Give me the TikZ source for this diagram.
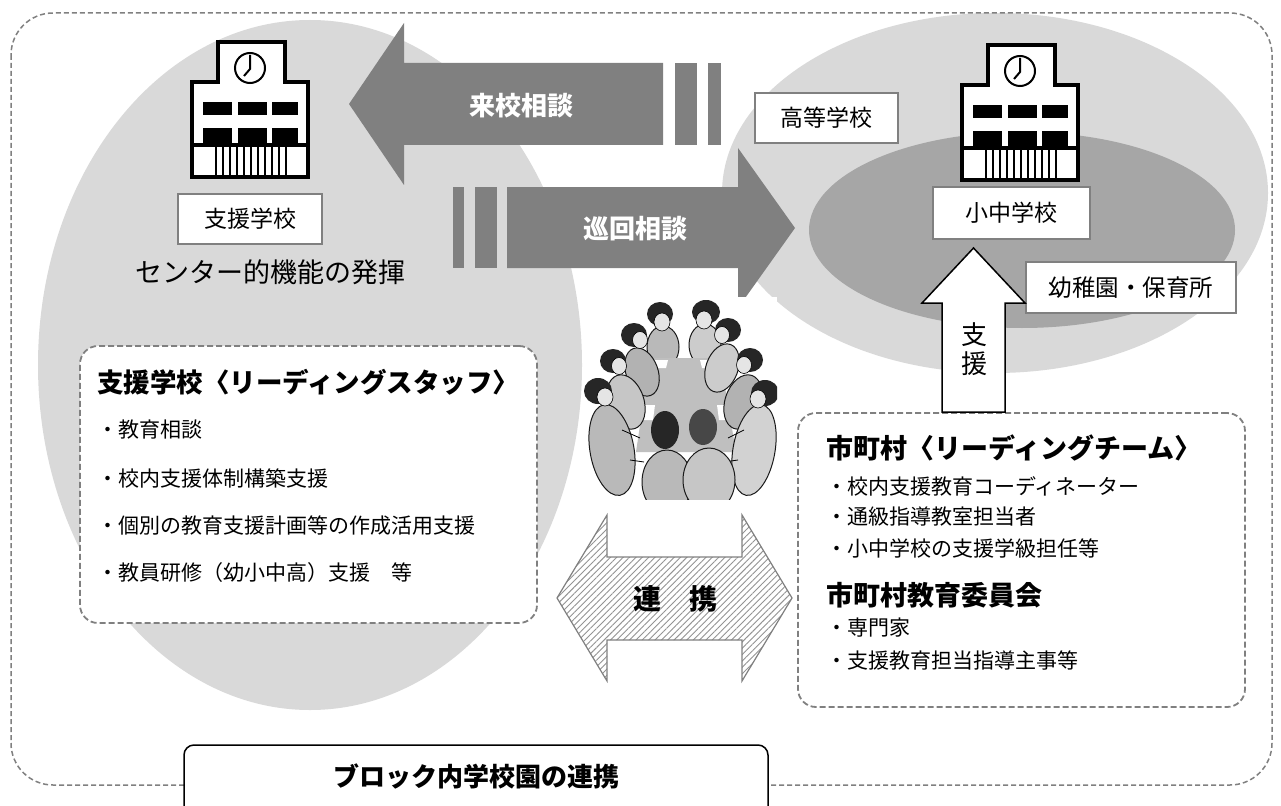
\documentclass[tikz,border=0pt]{standalone}
\usepackage{fontspec}
\newfontfamily\jp{Noto Sans CJK JP}
\usetikzlibrary{patterns.meta}
\newcommand\setfs[1]{\fontsize{#1}{#1}\selectfont}
\definecolor{paleg}{HTML}{D9D9D9}
\definecolor{midg}{HTML}{A6A6A6}
\definecolor{arrowg}{HTML}{808080}
\definecolor{lineg}{HTML}{808080}
\definecolor{hairc}{HTML}{262626}
\tikzset{
  lbl/.style={font={\jp\setfs{#1}}, inner sep=0pt},
  blbl/.style={font={\jp\bfseries\setfs{#1}}, inner sep=0pt},
  namebox/.style={draw=lineg, line width=1.5pt, fill=white, inner sep=0pt, font={\jp\setfs{23}}},
  groupbox/.style={draw=lineg, line width=1.8pt, dash pattern=on 6pt off 3pt, fill=white,
    rounded corners=18pt, inner sep=0pt},
  bigarrow/.style={fill=arrowg},
  body/.style={draw=black!90, line width=1pt},
  face/.style={fill=gray!20, draw=black, line width=0.6pt},
  school/.pic={
    \draw[line width=3.5pt, fill=white, line join=miter]
      (0,135) -- (0,40) -- (26,40) -- (26,0) -- (93,0) -- (93,40) -- (116,40) -- (116,135) -- cycle;
    \draw[line width=2pt] (58,26) circle (15pt);
    \draw[line width=2pt] (58,13) -- (58,27) -- (52,34);
    \foreach \wx/\ww in {11/29,46/29,80/26}{
      \fill (\wx,60) rectangle ++(\ww,13);
      \fill (\wx,86) rectangle ++(\ww,17);
    }
    \draw[line width=3.5pt] (0,103) -- (116,103);
    \foreach \i in {0,...,10}{\draw[line width=2pt] (24+7*\i,103) -- (24+7*\i,135);}
  }
}
\begin{document}
\begin{tikzpicture}[x=1pt,y=-1pt]
\useasboundingbox (0,0) rectangle (1281,805);
\fill[white] (0,0) rectangle (1281,805);

% background areas
\fill[paleg] (310,365) ellipse [x radius=272pt, y radius=345pt];
\fill[paleg] (995,193) ellipse [x radius=273pt, y radius=180pt];
\fill[midg] (1022,230) ellipse [x radius=213pt, y radius=98pt];

% outer frame
\draw[lineg, line width=1.5pt, dash pattern=on 5pt off 3pt, rounded corners=42pt]
  (11,13) rectangle (1272,785);

% visiting consultation (to the left)
\fill[bigarrow] (663,63) -- (404,63) -- (404,23) -- (349,104) -- (404,185) -- (404,145) -- (663,145) -- cycle;
\fill[bigarrow] (675,63) rectangle (697,145);
\fill[bigarrow] (708,63) rectangle (721,145);
\node[blbl=26, text=white] (raiko) at (521,106) {来校相談};

% itinerant consultation (to the right)
\fill[bigarrow] (453,187) rectangle (464,268);
\fill[bigarrow] (475,187) rectangle (497,268);
\fill[bigarrow] (507,187) -- (738,187) -- (738,148) -- (795,228) -- (738,308) -- (738,268) -- (507,268) -- cycle;
\node[blbl=26, text=white] (junkai) at (635,229) {巡回相談};

% school buildings
\pic at (192,42) {school};
\pic at (962,45) {school};

% name boxes
\node[namebox, minimum width=144pt, minimum height=50pt] (shien) at (250,219) {支援学校};
\node[lbl=27] (center) at (270,272) {センター的機能の発揮};
\node[namebox, minimum width=143pt, minimum height=50pt] (koto) at (826.5,118) {高等学校};
\node[namebox, minimum width=157pt, minimum height=52pt] (shochu) at (1011.5,213) {小中学校};
\node[namebox, minimum width=210pt, minimum height=51pt, font={\jp\setfs{23.5}}] (yochi) at (1131,287.5) {幼稚園・保育所};

% meeting illustration
\begin{scope}
  \fill[white] (583,297) rectangle (777,500);
  \clip (583,297) rectangle (777,499);
  % far side
  \draw[body, fill=gray!55] (663,347) ellipse [x radius=16pt, y radius=21pt];
  \draw[body, fill=gray!40] (705,345) ellipse [x radius=16pt, y radius=21pt];
  \fill[hairc] (660,314) ellipse [x radius=13pt, y radius=12pt];
  \filldraw[face] (662,322) ellipse [x radius=8pt, y radius=9pt];
  \fill[hairc] (706,312) ellipse [x radius=14pt, y radius=12pt];
  \filldraw[face] (704,320) ellipse [x radius=8pt, y radius=9pt];
  % table
  \fill[gray!50] (650,358) -- (720,358) -- (736,452) -- (636,452) -- cycle;
  \fill[white] (654,360) -- (668,360) -- (666,368) -- (652,368) -- cycle;
  \fill[white] (700,360) -- (716,360) -- (718,368) -- (702,368) -- cycle;
  \fill[white] (643,405) -- (655,405) -- (653,420) -- (641,420) -- cycle;
  \fill[white] (717,405) -- (729,405) -- (731,420) -- (719,420) -- cycle;
  % left side
  \draw[body, fill=gray!60, rotate around={20:(642,372)}] (642,372) ellipse [x radius=16pt, y radius=25pt];
  \draw[body, fill=gray!45, rotate around={18:(626,402)}] (626,402) ellipse [x radius=18pt, y radius=28pt];
  \draw[body, fill=gray!55, rotate around={10:(612,450)}] (612,450) ellipse [x radius=22pt, y radius=46pt];
  \draw[black, line width=0.8pt] (622,430) -- (640,438) (630,460) -- (644,462);
  \fill[hairc] (634,335) ellipse [x radius=13pt, y radius=12pt];
  \filldraw[face] (640,340) ellipse [x radius=7.5pt, y radius=8.5pt];
  \fill[hairc] (613,361) ellipse [x radius=13pt, y radius=12pt];
  \filldraw[face] (619,366) ellipse [x radius=7.5pt, y radius=8.5pt];
  \fill[hairc] (598,391) ellipse [x radius=14pt, y radius=13pt];
  \filldraw[face] (605,397) ellipse [x radius=8pt, y radius=9pt];
  % right side
  \draw[body, fill=gray!40, rotate around={-20:(722,368)}] (722,368) ellipse [x radius=16pt, y radius=25pt];
  \draw[body, fill=gray!60, rotate around={-18:(743,402)}] (743,402) ellipse [x radius=18pt, y radius=28pt];
  \draw[body, fill=gray!35, rotate around={-10:(754,450)}] (754,450) ellipse [x radius=21pt, y radius=46pt];
  \draw[black, line width=0.8pt] (744,430) -- (728,438) (738,460) -- (724,462);
  \fill[hairc] (728,330) ellipse [x radius=13pt, y radius=12pt];
  \filldraw[face] (722,335) ellipse [x radius=7.5pt, y radius=8.5pt];
  \fill[hairc] (750,360) ellipse [x radius=13pt, y radius=12pt];
  \filldraw[face] (744,365) ellipse [x radius=7.5pt, y radius=8.5pt];
  \fill[hairc] (765,393) ellipse [x radius=14pt, y radius=13pt];
  \filldraw[face] (758,399) ellipse [x radius=8pt, y radius=9pt];
  % near side, seen from behind
  \draw[body, fill=gray!55] (667,482) ellipse [x radius=25pt, y radius=32pt];
  \draw[body, fill=gray!45] (709,480) ellipse [x radius=26pt, y radius=32pt];
  \fill[hairc] (665,430) ellipse [x radius=14pt, y radius=19pt];
  \fill[hairc!85] (703,427) ellipse [x radius=14pt, y radius=18pt];
\end{scope}

% cooperation double arrow
\draw[lineg, line width=1.2pt, preaction={fill=white},
      pattern={Lines[angle=45, distance=4.5pt, line width=0.9pt]}, pattern color=gray!85]
  (557,598) -- (607,515) -- (607,557) -- (742,557) -- (742,515) -- (792,598)
  -- (742,681) -- (742,640) -- (607,640) -- (607,681) -- cycle;
\node[blbl=28] (renkei) at (675,599) {連　携};

% leading staff of the support school
\node[groupbox, minimum width=457pt, minimum height=277pt] (staff) at (308.5,484.5) {};
\node[blbl=26.5, anchor=west] (stafft) at (97,382) {支援学校〈リーディングスタッフ〉};
\node[lbl=21, anchor=west] (st1) at (97,430) {・教育相談};
\node[lbl=21, anchor=west] (st2) at (97,478) {・校内支援体制構築支援};
\node[lbl=21, anchor=west] (st3) at (97,526) {・個別の教育支援計画等の作成活用支援};
\node[lbl=21, anchor=west] (st4) at (97,573) {・教員研修（幼小中高）支援　等};

% municipal leading team
\node[groupbox, minimum width=447pt, minimum height=294pt] (team) at (1021.5,560) {};
\node[blbl=27, anchor=west] (teamt) at (826,448) {市町村〈リーディングチーム〉};
\node[lbl=21, anchor=west] (tm1) at (826,486) {・校内支援教育コーディネーター};
\node[lbl=21, anchor=west] (tm2) at (826,517) {・通級指導教室担当者};
\node[lbl=21, anchor=west] (tm3) at (826,548) {・小中学校の支援学級担任等};
\node[blbl=27, anchor=west] (boardt) at (826,595) {市町村教育委員会};
\node[lbl=21, anchor=west] (bd1) at (826,628) {・専門家};
\node[lbl=21, anchor=west] (bd2) at (826,660) {・支援教育担当指導主事等};

% support arrow
\draw[black, line width=1.5pt, fill=white, line join=miter]
  (942,412) -- (942,303) -- (922,303) -- (973.5,248) -- (1025,303) -- (1005,303) -- (1005,412) -- cycle;
\node[lbl=26, align=center, font={\jp\fontsize{26}{29}\selectfont}] (shienup) at (974,349) {支\\援};

% title box
\node[draw=black, line width=1.5pt, fill=white, rounded corners=10pt,
      minimum width=584pt, minimum height=80pt, inner sep=0pt] (block) at (476,785) {};
\node[blbl=26] (blockt) at (476,776) {ブロック内学校園の連携};
\end{tikzpicture}
\end{document}
